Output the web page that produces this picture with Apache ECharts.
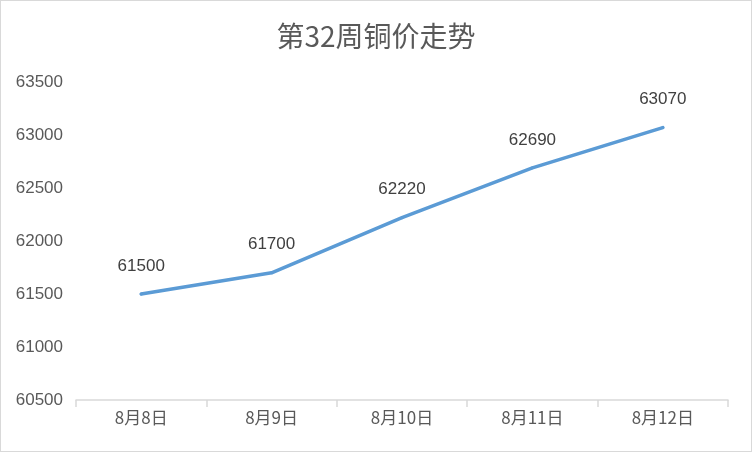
<!DOCTYPE html>
<html><head><meta charset="utf-8">
<script src="https://cdn.jsdelivr.net/npm/echarts@6/dist/echarts.min.js"></script>
<style>html,body{margin:0;padding:0;background:#fff}#c{width:752px;height:452px;box-sizing:border-box;border:1px solid #d9d9d9}</style>
</head><body><div id="c"></div>
<script>
const categories = ['8月8日','8月9日','8月10日','8月11日','8月12日'];
const prices = [61500, 61700, 62220, 62690, 63070];
const titleText = '第32周铜价走势';
const chart = echarts.init(document.getElementById('c'));
chart.setOption({
  animation:false,
  title:{text:titleText,left:'center',top:16,textStyle:{fontFamily:'Noto Sans CJK SC',fontSize:28,fontWeight:'normal',color:'#595959'}},
  grid:{left:75,right:23,top:81,bottom:51},
  xAxis:{type:'category',data:categories,boundaryGap:true,
    axisLine:{lineStyle:{color:'#d9d9d9',width:1.5}},
    axisTick:{show:true,length:7,inside:false,lineStyle:{color:'#d9d9d9',width:1.5}},
    axisLabel:{color:'#595959',fontSize:17,margin:9,fontFamily:'Noto Sans CJK SC'}},
  yAxis:{type:'value',min:60500,max:63500,interval:500,
    axisLine:{show:false},axisTick:{show:false},splitLine:{show:false},
    axisLabel:{color:'#595959',fontSize:17,margin:13,fontFamily:'Liberation Sans',formatter:v=>String(v)}},
  series:[{type:'line',data:prices,showSymbol:true,symbol:'circle',symbolSize:3,
    itemStyle:{color:'#5B9BD5'},
    lineStyle:{color:'#5B9BD5',width:3.5,cap:'round'},
    label:{show:true,position:'top',distance:18,color:'#404040',fontSize:17,fontFamily:'Liberation Sans',formatter:p=>String(p.value)}}]
});
</script></body></html>
